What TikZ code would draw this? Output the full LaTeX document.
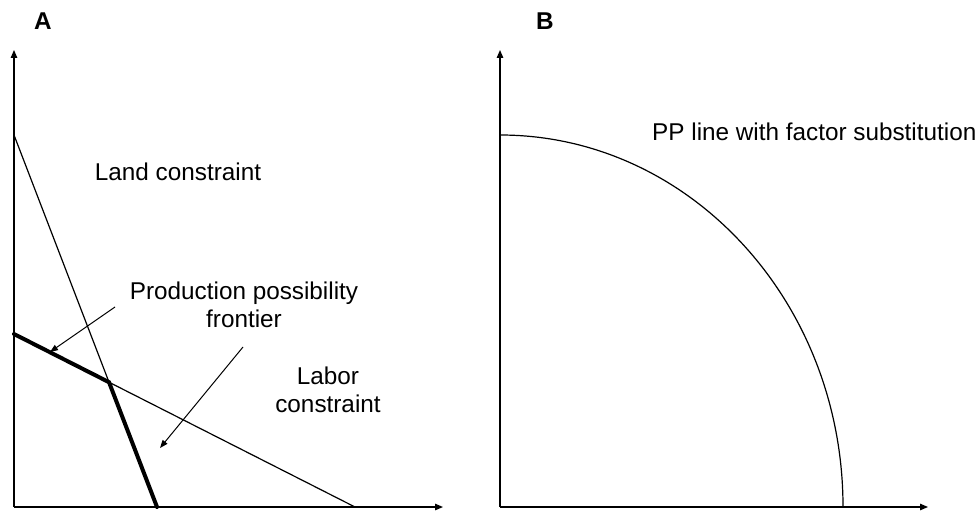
\documentclass[tikz,border=0pt]{standalone}
\usepackage{fontspec}
\setmainfont{Liberation Sans}
\usetikzlibrary{arrows.meta,calc}
\tikzset{
  axis/.style={-{Triangle[length=8pt,width=6.5pt]}, line width=1.3pt},
  thin/.style={line width=1.2pt},
  ppf/.style={line width=4pt, line cap=round},
  ptr/.style={-{Triangle[length=8pt,width=6pt]}, line width=1pt},
  lbl/.style={font=\fontsize{24.3}{28}\selectfont, align=center, inner sep=0pt},
  panel/.style={font=\fontsize{24.3}{28}\selectfont\bfseries, inner sep=0pt}
}
\begin{document}
\begin{tikzpicture}[x=1pt,y=-1pt]
  \useasboundingbox (0,0) rectangle (976,513);

  % panel A
  \coordinate (oA) at (14,507);
  \coordinate (yA) at (14,50);
  \coordinate (xA) at (443,507);
  \coordinate (landtop) at (14,135);
  \coordinate (landbot) at (157,507);
  \coordinate (labtop) at (14,334);
  \coordinate (labbot) at (355,507);
  \coordinate (kink) at (intersection of landtop--landbot and labtop--labbot);

  \node[panel] (pA) at (43,21) {A};
  \draw[axis] (oA) -- (yA);
  \draw[axis] (oA) -- (xA);
  \draw[thin] (landtop) -- (landbot);
  \draw[thin] (labtop) -- (labbot);
  \draw[ppf] (labtop) -- (kink) -- (landbot);

  \node[lbl] (land) at (178,172) {Land constraint};
  \node[lbl] (front) at (244,305) {Production possibility\\frontier};
  \node[lbl] (labor) at (328,390) {Labor\\constraint};

  \coordinate (s1) at (115,307);
  \coordinate (t1) at (50,352);
  \coordinate (s2) at (243,347);
  \coordinate (t2) at (160,448);
  \draw[ptr] (s1) -- (t1);
  \draw[ptr] (s2) -- (t2);

  % panel B
  \coordinate (oB) at (500,507);
  \coordinate (yB) at (500,50);
  \coordinate (xB) at (928,507);
  \coordinate (pptop) at (500,135);

  \node[panel] (pB) at (545,21) {B};
  \draw[axis] (oB) -- (yB);
  \draw[axis] (oB) -- (xB);
  \draw[thin] (pptop) arc[start angle=-90, end angle=0, x radius=343, y radius=372];
  \node[lbl, anchor=west] (pp) at (652,132) {PP line with factor substitution};
\end{tikzpicture}
\end{document}
